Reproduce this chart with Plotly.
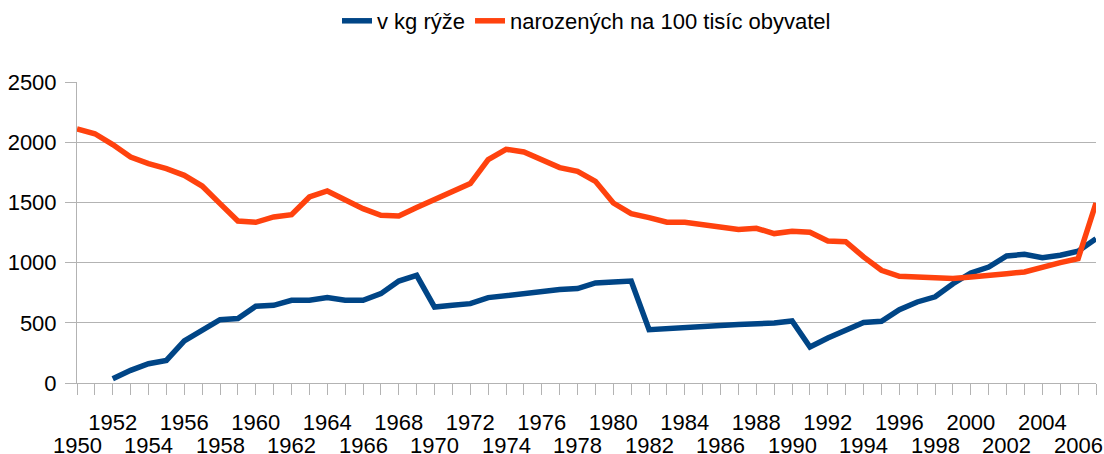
import plotly.graph_objects as go

years = list(range(1950, 2008))

rice_kg = [None, None,
           35, 105, 160, 188, 349, 438, 526, 535, 637,
           645, 687, 687, 709, 687, 687, 742, 847, 894, 631,
           645, 659, 709, 728, 748, 762, 776, 784, 831, 839,
           847, 443, 454, 460, 473, 478, 485, 490, 498, 515,
           299, 374, 438, 502, 512, 609, 673, 716, 825, 914,
           963, 1055, 1069, 1041, 1061, 1094, 1199]

births = [2110, 2070, 1980, 1877, 1822, 1780, 1725, 1636, 1490, 1345,
          1335, 1379, 1398, 1545, 1595, 1517, 1448, 1393, 1387, 1457,
          1523, 1578, 1656, 1855, 1941, 1919, 1855, 1789, 1758, 1675,
          1495, 1407, 1374, 1335, 1335, 1312, 1296, 1276, 1285, 1241,
          1260, 1252, 1180, 1174, 1047, 936, 886, 880, 880, 867,
          880, 889, 908, 922, 963, 1000, 1033, 1495]

label_years = list(range(1950, 2007, 2))
upper_text = [str(y) if (y - 1950) % 4 == 2 else "" for y in label_years]
lower_years = [y for y in label_years if (y - 1950) % 4 == 0]

BLUE = "#004586"
ORANGE = "#ff420e"
GRID = "#b3b3b3"
FONT = "Liberation Sans, Arial, sans-serif"

fig = go.Figure()
fig.add_trace(go.Scatter(x=years, y=rice_kg, mode="lines", name="v kg rýže",
                         line=dict(color=BLUE, width=5.5), connectgaps=False))
fig.add_trace(go.Scatter(x=years, y=births, mode="lines", name="narozených na 100 tisíc obyvatel",
                         line=dict(color=ORANGE, width=5.5)))

for y in lower_years:
    fig.add_annotation(x=y, y=0, xref="x", yref="paper", text=str(y), showarrow=False,
                       yanchor="middle", xanchor="center", yshift=-62, height=20,
                       borderpad=0, valign="middle",
                       font=dict(family=FONT, size=22, color="#000000"))

fig.update_layout(
    width=1104, height=454,
    margin=dict(l=77, r=8, t=82, b=71, autoexpand=False),
    paper_bgcolor="white", plot_bgcolor="white",
    font=dict(family=FONT, size=22, color="#000000"),
    showlegend=True,
    legend=dict(orientation="h", x=0.5, xanchor="center", y=1.0, yref="container",
                yanchor="top", font=dict(size=22), itemwidth=30),
    xaxis=dict(
        range=[1950, 2007], tickmode="array", tickvals=label_years, ticktext=upper_text,
        ticks="outside", ticklen=11, tickcolor=GRID, tickwidth=1,
        minor=dict(dtick=1, tick0=1950, ticks="outside", ticklen=11, tickcolor=GRID, showgrid=False),
        showline=True, linecolor=GRID, linewidth=1, showgrid=False, zeroline=False,
        tickangle=0, ticklabelstandoff=9, automargin=False,
    ),
    yaxis=dict(
        range=[0, 2500], dtick=500, tick0=0, ticks="outside", ticklen=11, tickcolor=GRID,
        showline=True, linecolor=GRID, showgrid=True, gridcolor=GRID, gridwidth=1,
        zeroline=False, ticklabelstandoff=4, automargin=False,
    ),
    yaxis2=dict(overlaying="y", side="right", range=[0, 2500], showline=True, linecolor=GRID,
                showticklabels=False, showgrid=False, zeroline=False, ticks="", automargin=False),
)

fig.write_html("out.html", config={"displayModeBar": False},
               post_script="document.body.style.margin='0';document.body.style.padding='0';")
